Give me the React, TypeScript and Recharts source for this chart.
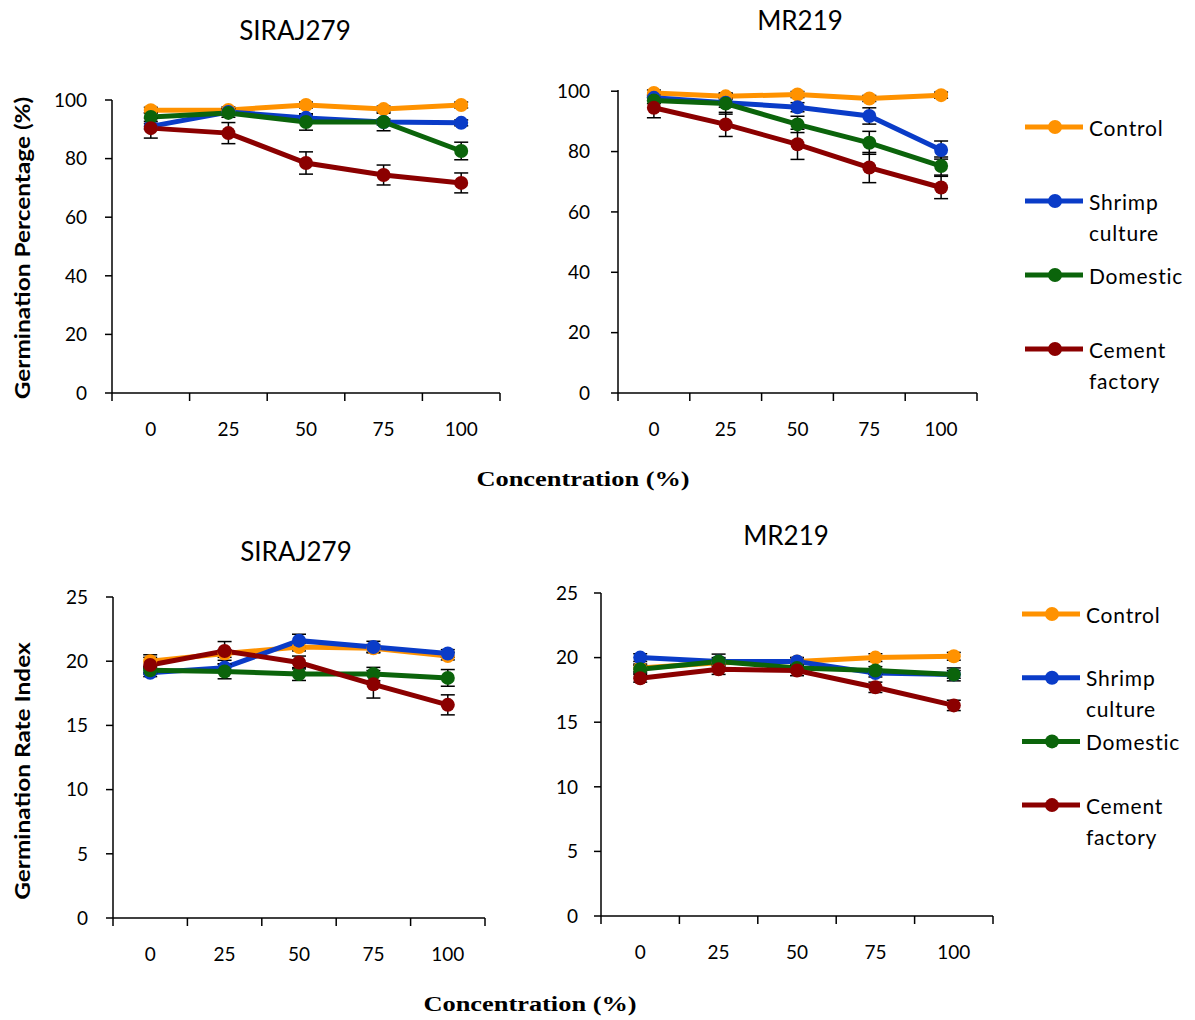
import React from "react";
import { LineChart, Line, XAxis, YAxis, ErrorBar } from "recharts";

const FONT = "Lato, 'Open Sans', sans-serif";
const SERIF = "'Liberation Serif', 'DejaVu Serif', serif";

const CONCENTRATIONS = ["0", "25", "50", "75", "100"];
const GP_TICKS = [0, 20, 40, 60, 80, 100];
const GRI_TICKS = [0, 5, 10, 15, 20, 25];

const SERIES = [
  { key: "control", label: ["Control"], color: "#FF9200" },
  { key: "shrimp", label: ["Shrimp", "culture"], color: "#0A3CC8" },
  { key: "domestic", label: ["Domestic"], color: "#0B640B" },
  { key: "cement", label: ["Cement", "factory"], color: "#8B0000" },
];

// Germination percentage - SIRAJ279
const GP_SIRAJ_CONTROL = [96.5, 96.6, 98.3, 96.9, 98.3];
const GP_SIRAJ_SHRIMP = [91, 95.9, 93.9, 92.5, 92.2];
const GP_SIRAJ_DOMESTIC = [94.2, 95.6, 92.5, 92.5, 82.6];
const GP_SIRAJ_CEMENT = [90.4, 88.7, 78.5, 74.4, 71.7];
const GP_SIRAJ_CONTROL_ERR = [1, 1, 1, 1, 1];
const GP_SIRAJ_SHRIMP_ERR = [1, 1, 1, 1, 1];
const GP_SIRAJ_DOMESTIC_ERR = [1.5, 1.5, 2.8, 3, 3];
const GP_SIRAJ_CEMENT_ERR = [3.4, 3.6, 3.8, 3.4, 3.4];

// Germination percentage - MR219
const GP_MR_CONTROL = [99.4, 98.3, 98.9, 97.6, 98.7];
const GP_MR_SHRIMP = [97.8, 96.2, 94.7, 91.8, 80.5];
const GP_MR_DOMESTIC = [96.9, 95.9, 89, 82.9, 75.2];
const GP_MR_CEMENT = [94.5, 89, 82.4, 74.7, 68.1];
const GP_MR_CONTROL_ERR = [1, 1, 1, 1, 1];
const GP_MR_SHRIMP_ERR = [1, 1.5, 1.5, 2.7, 3];
const GP_MR_DOMESTIC_ERR = [1, 3.5, 2.7, 3.8, 3];
const GP_MR_CEMENT_ERR = [3.3, 4, 5, 5, 3.7];

// Germination rate index - SIRAJ279
const GRI_SIRAJ_CONTROL = [20.0, 20.6, 21.1, 21.0, 20.4];
const GRI_SIRAJ_SHRIMP = [19.1, 19.5, 21.6, 21.1, 20.6];
const GRI_SIRAJ_DOMESTIC = [19.3, 19.2, 19.0, 19.0, 18.7];
const GRI_SIRAJ_CEMENT = [19.7, 20.8, 19.9, 18.2, 16.6];
const GRI_SIRAJ_CONTROL_ERR = [0.5, 0.3, 0.3, 0.3, 0.3];
const GRI_SIRAJ_SHRIMP_ERR = [0.3, 0.3, 0.5, 0.45, 0.3];
const GRI_SIRAJ_DOMESTIC_ERR = [0.3, 0.57, 0.5, 0.52, 0.65];
const GRI_SIRAJ_CEMENT_ERR = [0.6, 0.73, 0.5, 1.07, 0.78];

// Germination rate index - MR219
const GRI_MR_CONTROL = [19.2, 19.6, 19.7, 20.0, 20.1];
const GRI_MR_SHRIMP = [20.0, 19.7, 19.7, 18.8, 18.7];
const GRI_MR_DOMESTIC = [19.1, 19.7, 19.2, 19.0, 18.7];
const GRI_MR_CEMENT = [18.4, 19.1, 19.0, 17.7, 16.3];
const GRI_MR_CONTROL_ERR = [0.3, 0.3, 0.3, 0.3, 0.3];
const GRI_MR_SHRIMP_ERR = [0.3, 0.3, 0.3, 0.3, 0.3];
const GRI_MR_DOMESTIC_ERR = [0.3, 0.57, 0.3, 0.3, 0.5];
const GRI_MR_CEMENT_ERR = [0.3, 0.4, 0.4, 0.4, 0.4];

function buildRows(
  values: number[][],
  errors: number[][]
): Record<string, number | string>[] {
  return CONCENTRATIONS.map((conc, i) => {
    const row: Record<string, number | string> = { conc };
    SERIES.forEach((s, j) => {
      row[s.key] = values[j][i];
      row[s.key + "Err"] = errors[j][i];
    });
    return row;
  });
}

const gpSirajRows = buildRows(
  [GP_SIRAJ_CONTROL, GP_SIRAJ_SHRIMP, GP_SIRAJ_DOMESTIC, GP_SIRAJ_CEMENT],
  [GP_SIRAJ_CONTROL_ERR, GP_SIRAJ_SHRIMP_ERR, GP_SIRAJ_DOMESTIC_ERR, GP_SIRAJ_CEMENT_ERR]
);
const gpMrRows = buildRows(
  [GP_MR_CONTROL, GP_MR_SHRIMP, GP_MR_DOMESTIC, GP_MR_CEMENT],
  [GP_MR_CONTROL_ERR, GP_MR_SHRIMP_ERR, GP_MR_DOMESTIC_ERR, GP_MR_CEMENT_ERR]
);
const griSirajRows = buildRows(
  [GRI_SIRAJ_CONTROL, GRI_SIRAJ_SHRIMP, GRI_SIRAJ_DOMESTIC, GRI_SIRAJ_CEMENT],
  [GRI_SIRAJ_CONTROL_ERR, GRI_SIRAJ_SHRIMP_ERR, GRI_SIRAJ_DOMESTIC_ERR, GRI_SIRAJ_CEMENT_ERR]
);
const griMrRows = buildRows(
  [GRI_MR_CONTROL, GRI_MR_SHRIMP, GRI_MR_DOMESTIC, GRI_MR_CEMENT],
  [GRI_MR_CONTROL_ERR, GRI_MR_SHRIMP_ERR, GRI_MR_DOMESTIC_ERR, GRI_MR_CEMENT_ERR]
);

const Y_AXIS_W = 70;
const X_AXIS_H = 50;
const TOP_PAD = 20;

interface PanelProps {
  rows: Record<string, number | string>[];
  plot: { left: number; top: number; right: number; bottom: number };
  max: number;
  ticks: number[];
  labelGap: number;
}

function Panel({ rows, plot, max, ticks, labelGap }: PanelProps) {
  const left = plot.left - Y_AXIS_W;
  const top = plot.top - TOP_PAD;
  const width = plot.right - left + 30;
  const height = plot.bottom + X_AXIS_H - top;
  // Excel-style "between tick marks" axis: each category sits in the middle of its band
  const band = (plot.right - plot.left) / CONCENTRATIONS.length;

  const renderTick = (p: any) => {
    const { x, y, payload, index } = p;
    return (
      <g>
        <line x1={x - band / 2} x2={x - band / 2} y1={y} y2={y + 8} stroke="#000" strokeWidth={1.5} />
        {index === CONCENTRATIONS.length - 1 && (
          <line x1={x + band / 2} x2={x + band / 2} y1={y} y2={y + 8} stroke="#000" strokeWidth={1.5} />
        )}
        <text x={x} y={y + 35} textAnchor="middle" dominantBaseline="central" fill="#000" fontSize={19} fontFamily={FONT}>
          {payload.value}
        </text>
      </g>
    );
  };

  return (
    <div style={{ position: "absolute", left, top }}>
      <LineChart width={width} height={height} data={rows} margin={{ top: TOP_PAD, right: 30, bottom: 0, left: 0 }}>
        <XAxis
          dataKey="conc"
          type="category"
          interval={0}
          height={X_AXIS_H}
          padding={{ left: band / 2, right: band / 2 }}
          tickLine={false}
          tickSize={0}
          tickMargin={0}
          axisLine={{ stroke: "#000", strokeWidth: 1.5 }}
          tick={renderTick}
        />
        <YAxis
          width={Y_AXIS_W}
          domain={[0, max]}
          ticks={ticks}
          interval={0}
          tickSize={7}
          tickMargin={labelGap - 7}
          axisLine={{ stroke: "#000", strokeWidth: 1.5 }}
          tickLine={{ stroke: "#000", strokeWidth: 1.5 }}
          tick={{ fill: "#000", fontSize: 19, fontFamily: FONT }}
        />
        {SERIES.map((s) => (
          <Line
            key={s.key}
            dataKey={s.key}
            type="linear"
            stroke={s.color}
            strokeWidth={5}
            dot={{ r: 7, fill: s.color, stroke: s.color, strokeWidth: 0 }}
            activeDot={false}
            isAnimationActive={false}
          >
            <ErrorBar dataKey={s.key + "Err"} direction="y" width={7} stroke="#000" strokeWidth={1.5} />
          </Line>
        ))}
      </LineChart>
    </div>
  );
}

function LegendBlock({ x, y, gap }: { x: number; y: number; gap: number }) {
  return (
    <g>
      {SERIES.map((s, i) => {
        const cy = y + i * gap;
        return (
          <g key={s.key}>
            <line x1={x} x2={x + 58} y1={cy} y2={cy} stroke={s.color} strokeWidth={5} />
            <circle cx={x + 30} cy={cy} r={7} fill={s.color} />
            {s.label.map((t, k) => (
              <text key={t} x={x + 64} y={cy + k * 31} dominantBaseline="central" fontSize={21} letterSpacing={0.8} fontFamily={FONT} fill="#000">
                {t}
              </text>
            ))}
          </g>
        );
      })}
    </g>
  );
}

export default function App() {
  return (
    <div style={{ position: "absolute", left: 0, top: 0, width: 1195, height: 1020, background: "#fff" }}>
      <Panel rows={gpSirajRows} plot={{ left: 112, top: 100, right: 500, bottom: 393 }} max={100} ticks={GP_TICKS} labelGap={25} />
      <Panel rows={gpMrRows} plot={{ left: 618, top: 90, right: 977, bottom: 393 }} max={100} ticks={GP_TICKS} labelGap={28} />
      <Panel rows={griSirajRows} plot={{ left: 113, top: 597, right: 485, bottom: 918 }} max={25} ticks={GRI_TICKS} labelGap={25} />
      <Panel rows={griMrRows} plot={{ left: 601, top: 593, right: 993, bottom: 916 }} max={25} ticks={GRI_TICKS} labelGap={23} />
      <svg width={1195} height={1020} style={{ position: "absolute", left: 0, top: 0, pointerEvents: "none" }}>
        <g fontFamily={FONT} fill="#000" fontSize={26}>
          <text x={295} y={30} textAnchor="middle" dominantBaseline="central">SIRAJ279</text>
          <text x={800} y={20} textAnchor="middle" dominantBaseline="central">MR219</text>
          <text x={296} y={551} textAnchor="middle" dominantBaseline="central">SIRAJ279</text>
          <text x={786} y={535} textAnchor="middle" dominantBaseline="central">MR219</text>
        </g>
        <g fontFamily={FONT} fontWeight="bold" fontSize={20} fill="#000">
          <text transform="translate(22,248) rotate(-90) scale(1.22,1)" textAnchor="middle" dominantBaseline="central">
            Germination Percentage (%)
          </text>
          <text transform="translate(22,771) rotate(-90) scale(1.22,1)" textAnchor="middle" dominantBaseline="central">
            Germination Rate Index
          </text>
        </g>
        <g fontFamily={SERIF} fontWeight="bold" fontSize={22} fill="#000">
          <text transform="translate(583,478) scale(1.2,1)" textAnchor="middle" dominantBaseline="central">Concentration (%)</text>
          <text transform="translate(530,1003) scale(1.2,1)" textAnchor="middle" dominantBaseline="central">Concentration (%)</text>
        </g>
        <LegendBlock x={1025} y={127} gap={74} />
        <LegendBlock x={1022} y={614} gap={63.7} />
      </svg>
    </div>
  );
}
